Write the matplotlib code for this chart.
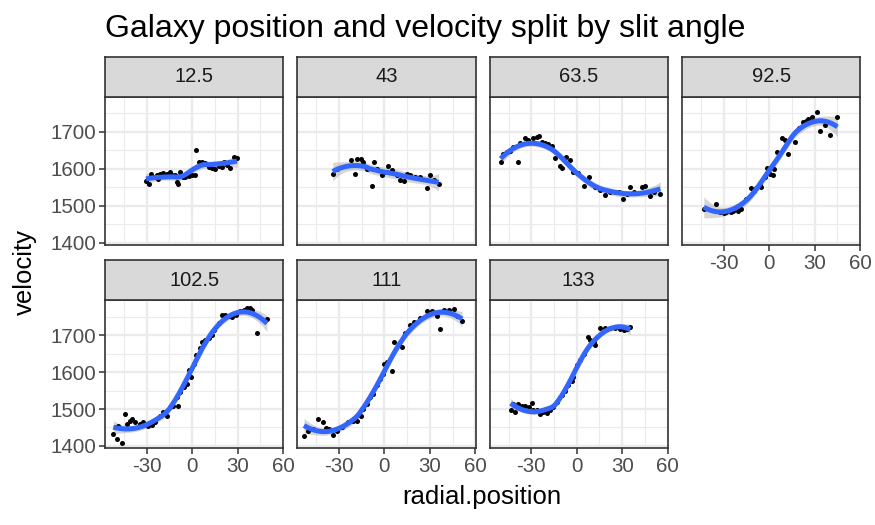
import numpy as np
import matplotlib.pyplot as plt

plt.rcParams['font.family'] = ['Liberation Sans', 'DejaVu Sans']
plt.rcParams['axes.unicode_minus'] = False

angles = ["12.5", "43", "63.5", "92.5", "102.5", "111", "133"]

# values, one pair of lists per slit angle
pos_12_5 = [-30.5, -28.3, -27.4, -25.6, -23.4, -22.3, -21.2, -19.0, -16.8, -14.6, -13.5, -11.3,
            -10.2, -9.1, -7.9, -6.2, -4.6, -2.4, -0.2, 2.0, 2.6, 4.2, 6.4, 8.6, 10.8, 13.0,
            15.2, 17.4, 19.6, 20.8, 23.0, 25.2, 27.4, 29.6]
vel_12_5 = [1567, 1558, 1585, 1578, 1582, 1571, 1587, 1589, 1587, 1591, 1582, 1582,
            1564, 1560, 1591, 1578, 1578, 1580, 1582, 1582, 1650, 1618, 1618, 1616, 1605, 1603,
            1600, 1607, 1605, 1618, 1609, 1603, 1632, 1630]

pos_43 = [-34.2, -31.5, -22.3, -19.4, -18.3, -15.6, -13.9, -11.7, -8.4, -6.6, -5.0, -1.7,
          -0.6, 2.6, 4.9, 8.2, 10.4, 12.6, 14.8, 17.0, 20.3, 23.6, 28.1, 30.2, 32.5, 35.8]
vel_43 = [1585, 1600, 1625, 1587, 1627, 1626, 1618, 1600, 1552, 1618, 1600, 1582,
          1591, 1607, 1596, 1582, 1569, 1567, 1585, 1582, 1578, 1578, 1549, 1582, 1569, 1558]

pos_63_5 = [-50.3, -48.5, -46.3, -44.1, -41.9, -39.0, -37.5, -34.2, -32.0, -28.7, -26.5, -24.7,
            -23.2, -21.0, -18.8, -16.6, -14.3, -11.4, -9.9, -7.0, -4.8, -2.2, 1.1, 4.9, 7.8,
            12.2, 15.5, 18.8, 22.1, 25.4, 27.6, 30.5, 33.2, 34.9, 37.6, 43.1, 45.3, 48.6,
            50.8, 55.2]
vel_63_5 = [1617, 1641, 1646, 1649, 1658, 1618, 1670, 1682, 1677, 1682, 1685, 1688,
            1673, 1670, 1668, 1661, 1630, 1607, 1601, 1632, 1625, 1592, 1588, 1553, 1578,
            1551, 1542, 1528, 1537, 1537, 1537, 1519, 1533, 1551, 1537, 1551, 1553, 1526,
            1537, 1533]

pos_92_5 = [-43.2, -35.3, -32.7, -30.0, -28.2, -25.0, -23.8, -20.5, -18.3, -15.0, -12.3, -10.0,
            -8.4, -6.0, -5.1, -2.8, -1.3, 0.5, 2.7, 3.5, 5.3, 6.5, 8.2, 10.4, 12.6, 17.0,
            19.9, 22.1, 24.0, 25.8, 28.1, 31.4, 33.6, 36.9, 40.2, 45.1]
vel_92_5 = [1490, 1505, 1483, 1480, 1483, 1482, 1485, 1487, 1492, 1519, 1547, 1540,
            1547, 1555, 1551, 1579, 1601, 1587, 1583, 1600, 1646, 1640, 1682, 1677, 1641, 1673,
            1709, 1727, 1730, 1734, 1741, 1753, 1703, 1718, 1691, 1739]

pos_102_5 = [-52.1, -49.4, -46.6, -48.8, -44.4, -43.3, -41.1, -40.0, -37.7, -34.4, -32.2, -28.9,
             -26.7, -24.5, -21.2, -19.0, -16.8, -14.6, -12.4, -9.7, -10.2, -7.9, -5.7, -3.5,
             -2.4, -0.9, 0.9, 2.6, 5.3, 6.4, 8.6, 10.8, 13.0, 14.6, 17.4, 19.6, 21.9, 24.1,
             26.3, 29.1, 31.8, 34.0, 36.2, 38.4, 39.5, 42.8, 49.4]
vel_102_5 = [1432, 1418, 1409, 1455, 1487, 1459, 1468, 1473, 1466, 1459, 1464, 1455,
             1457, 1464, 1482, 1491, 1482, 1505, 1509, 1509, 1532, 1546, 1559, 1568,
             1605, 1586, 1623, 1645, 1664, 1682, 1686, 1691, 1700, 1714, 1732, 1754, 1754, 1752,
             1750, 1754, 1764, 1768, 1774, 1773, 1768, 1706, 1744]

pos_111 = [-53.2, -50.3, -47.0, -43.7, -40.8, -38.6, -36.4, -34.2, -31.5, -28.2, -23.8, -20.5,
           -18.3, -15.6, -13.9, -11.7, -9.5, -7.3, -5.0, -2.8, -1.1, -0.2, 1.6, 4.9, 6.4,
           9.3, 11.5, 13.7, 17.0, 19.2, 23.6, 28.1, 31.4, 34.7, 36.5, 39.2, 42.4, 45.8,
           48.0, 51.3]
vel_111 = [1428, 1441, 1446, 1473, 1466, 1448, 1446, 1429, 1441, 1450, 1464, 1468,
           1468, 1482, 1500, 1514, 1532, 1541, 1564, 1582, 1596, 1623, 1627, 1602, 1682,
           1675, 1668, 1707, 1727, 1736, 1745, 1765, 1765, 1753, 1716, 1768, 1768, 1771,
           1753, 1738]

pos_133 = [-43.7, -41.9, -40.8, -38.6, -36.4, -34.2, -31.3, -29.7, -28.6, -26.5, -24.2, -22.0,
           -20.0, -17.6, -15.4, -12.8, -9.9, -7.7, -5.5, -3.3, -2.2, 0.0, 1.8, 4.5, 7.1,
           8.9, 11.1, 12.2, 15.5, 18.8, 22.1, 25.4, 28.3, 30.9, 33.1, 35.3]
vel_133 = [1496, 1514, 1491, 1514, 1509, 1509, 1505, 1517, 1498, 1496, 1487, 1493,
           1489, 1498, 1505, 1518, 1537, 1550, 1564, 1577, 1586, 1618, 1632, 1650, 1695,
           1686, 1680, 1673, 1718, 1720, 1718, 1720, 1716, 1714, 1716, 1723]

positions = [pos_12_5, pos_43, pos_63_5, pos_92_5, pos_102_5, pos_111, pos_133]
velocities = [vel_12_5, vel_43, vel_63_5, vel_92_5, vel_102_5, vel_111, vel_133]


def loess(x, y, grid, span=0.75):
    # local quadratic fit with tricube weights, like R's loess default
    x = np.asarray(x, float)
    y = np.asarray(y, float)
    n = len(x)
    q = int(np.floor(n * span))

    def rows(pts):
        L = []
        for x0 in pts:
            d = np.abs(x - x0)
            h = np.sort(d)[q - 1]
            w = np.clip(1 - (d / h) ** 3, 0, None) ** 3
            X = np.column_stack([np.ones(n), x - x0, (x - x0) ** 2])
            XtW = X.T * w
            L.append(np.linalg.solve(XtW @ X, XtW)[0])
        return np.array(L)

    Lx = rows(x)
    res = y - Lx @ y
    sigma = np.sqrt(np.sum(res ** 2) / (n - np.trace(Lx)))
    Lg = rows(grid)
    fit = Lg @ y
    se = sigma * np.sqrt(np.sum(Lg ** 2, axis=1))
    return fit, se


W, H = 875, 525
fig = plt.figure(figsize=(W / 100, H / 100), dpi=100)


def box(left, top, w, h):
    return [left / W, 1 - (top + h) / H, w / W, h / H]


col_left = [105, 297.3, 489.6, 682]
strip_top = [56.7, 260]
pw, sh, ph = 178.3, 40, 147.8
border = '#333333'

for i, ang in enumerate(angles):
    r, c = divmod(i, 4)
    ax = fig.add_axes(box(col_left[c], strip_top[r] + sh, pw, ph))
    ax.set_xlim(-57.6, 60.2)
    ax.set_ylim(1395, 1795)
    ax.set_xticks([-30, 0, 30, 60])
    ax.set_xticks([-45, -15, 15, 45], minor=True)
    ax.set_yticks([1400, 1500, 1600, 1700])
    ax.set_yticks([1450, 1550, 1650, 1750], minor=True)
    ax.grid(which='major', color='#EBEBEB', linewidth=1.7)
    ax.grid(which='minor', color='#EBEBEB', linewidth=0.85)
    ax.set_axisbelow(True)
    for s in ax.spines.values():
        s.set_color(border)
        s.set_linewidth(1.2)

    x = np.array(positions[i], float)
    y = np.array(velocities[i], float)
    grid = np.linspace(x.min(), x.max(), 80)
    fit, se = loess(x, y, grid)
    ax.fill_between(grid, fit - 2 * se, fit + 2 * se, color='#999999', alpha=0.4,
                    linewidth=0, zorder=2)
    ax.scatter(x, y, s=13, color='black', linewidths=0, zorder=3)
    ax.plot(grid, fit, color='#3366FF', linewidth=3.6, zorder=4, solid_capstyle='butt')

    show_x = (r == 1) or (c == 3)
    show_y = (c == 0)
    ax.tick_params(which='minor', length=0)
    ax.tick_params(axis='x', which='major', length=4.5 if show_x else 0, width=1.1,
                   color=border, labelbottom=show_x, labelsize=14.8, labelcolor='#4D4D4D', pad=2)
    ax.tick_params(axis='y', which='major', length=4.5 if show_y else 0, width=1.1,
                   color=border, labelleft=show_y, labelsize=14.8, labelcolor='#4D4D4D', pad=2)

    st = fig.add_axes(box(col_left[c], strip_top[r], pw, sh))
    st.set_facecolor('#D9D9D9')
    st.set_xticks([])
    st.set_yticks([])
    for s in st.spines.values():
        s.set_color(border)
        s.set_linewidth(1.2)
    st.text(0.5, 0.5, ang, transform=st.transAxes, ha='center', va='center',
            fontsize=14.5, color='#1A1A1A')

fig.text(105 / W, 1 - 37 / H, "Galaxy position and velocity split by slit angle",
         fontsize=23, color='black', ha='left', va='baseline')
fig.text(482 / W, 1 - 497 / H, "radial.position", fontsize=18.5, ha='center', va='center')
fig.text(25 / W, 1 - 272 / H, "velocity", fontsize=18.5, ha='center', va='center',
         rotation=90)

fig.savefig('out.png', dpi=100)
